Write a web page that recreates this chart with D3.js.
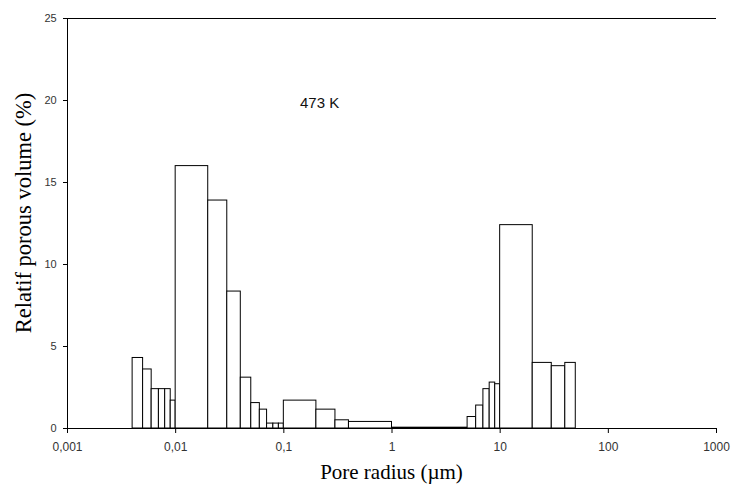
<!DOCTYPE html>
<html>
<head>
<meta charset="utf-8">
<script src="https://cdn.jsdelivr.net/npm/d3@7"></script>
<style>
  body { margin: 0; background: #fff; }
  svg { display: block; }
</style>
</head>
<body>
<svg id="chart"></svg>
<script>
// pore size classes (µm): lower and upper bound of each class
const binLow  = [0.004, 0.005, 0.006, 0.007, 0.008, 0.009,
                 0.01, 0.02, 0.03, 0.04, 0.05, 0.06, 0.07, 0.08, 0.09,
                 0.1, 0.2, 0.3, 0.4, 1,
                 5, 6, 7, 8, 9, 10, 20, 30, 40];
const binHigh = [0.005, 0.006, 0.007, 0.008, 0.009, 0.01,
                 0.02, 0.03, 0.04, 0.05, 0.06, 0.07, 0.08, 0.09, 0.1,
                 0.2, 0.3, 0.4, 1, 5,
                 6, 7, 8, 9, 10, 20, 30, 40, 50];
// relative porous volume (%) per class
const volume  = [4.3, 3.6, 2.4, 2.4, 2.4, 1.7,
                 16.0, 13.9, 8.35, 3.1, 1.55, 1.15, 0.3, 0.3, 0.3,
                 1.7, 1.15, 0.5, 0.4, 0.05,
                 0.7, 1.4, 2.4, 2.8, 2.7, 12.4, 4.0, 3.8, 4.0];

const xTicks = [0.001, 0.01, 0.1, 1, 10, 100, 1000];
const yTicks = [0, 5, 10, 15, 20, 25];
const tempLabel = "473 K";

const W = 732, H = 484;
const margin = { left: 67, top: 18, right: 16, bottom: 56 };
const iw = W - margin.left - margin.right;
const ih = H - margin.top - margin.bottom;

const svg = d3.select("#chart").attr("width", W).attr("height", H);
const g = svg.append("g").attr("transform", `translate(${margin.left},${margin.top})`);

const x = d3.scaleLog().domain([0.001, 1000]).range([0, iw]);
const y = d3.scaleLinear().domain([0, 25]).range([ih, 0]);

const bins = binLow.map((lo, i) => ({ lo: lo, hi: binHigh[i], v: volume[i] }));

// histogram bars
g.selectAll("rect.bar").data(bins).enter().append("rect")
    .attr("class", "bar")
    .attr("x", d => x(d.lo))
    .attr("y", d => y(d.v))
    .attr("width", d => x(d.hi) - x(d.lo))
    .attr("height", d => y(0) - y(d.v))
    .style("fill", "#fff")
    .style("stroke", "#000")
    .style("stroke-width", 1);

// top edge of the plot area
g.append("line")
    .attr("x1", 0).attr("x2", iw)
    .attr("y1", 0.5).attr("y2", 0.5)
    .style("stroke", "#000");

const fmt = d => String(d).replace(".", ",");

const xAxis = g.append("g").attr("transform", `translate(0,${ih})`)
    .call(d3.axisBottom(x).tickValues(xTicks).tickFormat(fmt).tickSize(5).tickSizeOuter(0));
xAxis.selectAll("text")
    .attr("dy", "1.25em")
    .style("font-family", "'Liberation Sans', Arial, sans-serif")
    .style("font-size", "12px")
    .style("fill", "#333");

const yAxis = g.append("g")
    .call(d3.axisLeft(y).tickValues(yTicks).tickSize(4).tickSizeOuter(0));
yAxis.selectAll("text")
    .attr("dx", "-0.3em")
    .style("font-family", "'Liberation Sans', Arial, sans-serif")
    .style("font-size", "11px")
    .style("fill", "#333");

svg.selectAll(".domain, .tick line").style("stroke", "#000");

// axis titles
svg.append("text")
    .attr("x", margin.left + iw / 2)
    .attr("y", 479)
    .attr("text-anchor", "middle")
    .style("font-family", "'Liberation Serif', 'Times New Roman', serif")
    .style("font-size", "21px")
    .text("Pore radius (\u00b5m)");

svg.append("text")
    .attr("transform", "translate(31,213) rotate(-90)")
    .attr("text-anchor", "middle")
    .style("font-family", "'Liberation Serif', 'Times New Roman', serif")
    .style("font-size", "22.5px")
    .text("Relatif porous volume (%)");

svg.append("text")
    .attr("x", 300)
    .attr("y", 108)
    .style("font-family", "'Liberation Sans', Arial, sans-serif")
    .style("font-size", "15px")
    .style("fill", "#111")
    .text(tempLabel);
</script>
</body>
</html>
